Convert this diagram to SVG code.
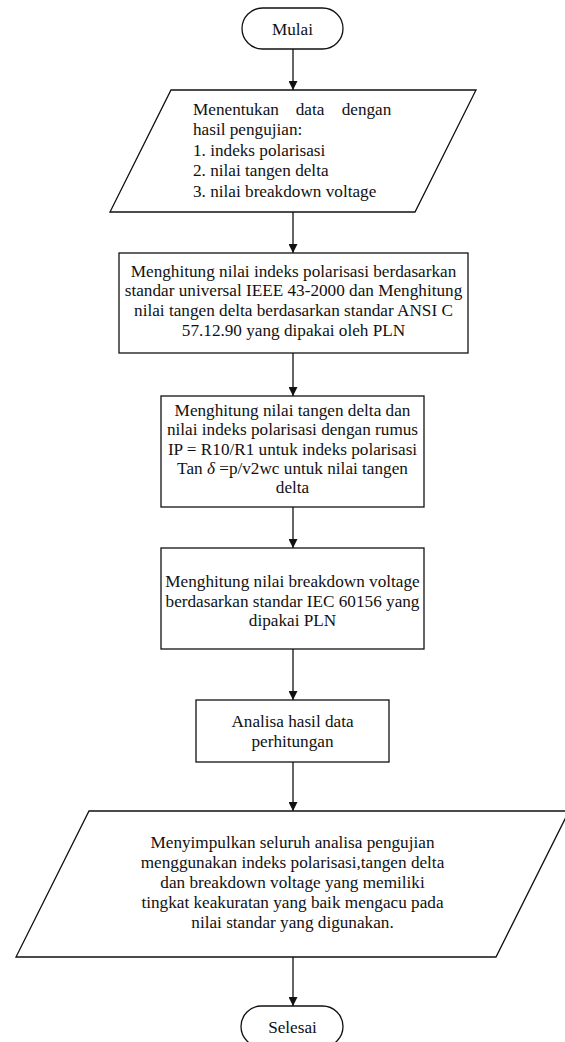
<svg xmlns="http://www.w3.org/2000/svg" width="565" height="1042" viewBox="0 0 565 1042" font-family="Liberation Serif, Times New Roman, DejaVu Serif, serif">
<style>
.shape{fill:#fff;stroke:#111;stroke-width:1.3}
.conn{stroke:#111;stroke-width:1.3;fill:none}
.t{font-family:'Liberation Serif','Times New Roman','DejaVu Serif',serif;font-size:17.2px;fill:#111}
.c{text-anchor:middle}
</style>
<defs>
<marker id="ah" viewBox="0 0 10 10" refX="10" refY="5" markerWidth="10" markerHeight="9" markerUnits="userSpaceOnUse" orient="auto">
<path d="M0,0 L10,5 L0,10 z" fill="#111"/>
</marker>
</defs>
<rect width="565" height="1042" fill="#fff"/>
<g id="connectors">
<line class="conn" x1="293" y1="49" x2="293" y2="90" marker-end="url(#ah)"/>
<line class="conn" x1="293" y1="212" x2="293" y2="253" marker-end="url(#ah)"/>
<line class="conn" x1="293" y1="353" x2="293" y2="396" marker-end="url(#ah)"/>
<line class="conn" x1="293" y1="507" x2="293" y2="548" marker-end="url(#ah)"/>
<line class="conn" x1="293" y1="649" x2="293" y2="700" marker-end="url(#ah)"/>
<line class="conn" x1="293" y1="762" x2="293" y2="811" marker-end="url(#ah)"/>
<line class="conn" x1="293" y1="957" x2="293" y2="1006" marker-end="url(#ah)"/>
</g>
<g id="mulai">
<rect class="shape" x="242" y="8" width="101" height="41" rx="20.5" ry="20.5"/>
<text class="t c" x="292.5" y="34.5">Mulai</text>
</g>
<g id="input-data">
<polygon class="shape" points="171,90 476,90 415,212 110,212"/>
<text class="t" x="193" y="115">Menentukan</text>
<text class="t" x="295.7" y="115">data</text>
<text class="t" x="341.7" y="115">dengan</text>
<text class="t" x="193" y="135.4">hasil pengujian:</text>
<text class="t" x="193" y="155.8">1. indeks polarisasi</text>
<text class="t" x="193" y="176.2">2. nilai tangen delta</text>
<text class="t" x="193" y="196.6">3. nilai breakdown voltage</text>
</g>
<g id="hitung-standar">
<rect class="shape" x="119" y="253" width="349" height="100"/>
<text class="t c" x="293.5" y="276.7">Menghitung nilai indeks polarisasi berdasarkan</text>
<text class="t c" x="293.5" y="296.3">standar universal IEEE 43-2000 dan Menghitung</text>
<text class="t c" x="293.5" y="315.9">nilai tangen delta berdasarkan standar ANSI C</text>
<text class="t c" x="293.5" y="335.5">57.12.90 yang dipakai oleh PLN</text>
</g>
<g id="hitung-rumus">
<rect class="shape" x="161" y="396" width="263" height="111"/>
<text class="t c" x="292.5" y="416">Menghitung nilai tangen delta dan</text>
<text class="t c" x="292.5" y="435.3">nilai indeks polarisasi dengan rumus</text>
<text class="t c" x="292.5" y="454.6">IP = R10/R1 untuk indeks polarisasi</text>
<text class="t c" x="292.5" y="473.9">Tan <tspan font-style="italic">δ</tspan> =p/v2wc untuk nilai tangen</text>
<text class="t c" x="292.5" y="493.2">delta</text>
</g>
<g id="hitung-breakdown">
<rect class="shape" x="161" y="548" width="263" height="101"/>
<text class="t c" x="292.5" y="587.3">Menghitung nilai breakdown voltage</text>
<text class="t c" x="292.5" y="606.7">berdasarkan standar IEC 60156 yang</text>
<text class="t c" x="292.5" y="626">dipakai PLN</text>
</g>
<g id="analisa">
<rect class="shape" x="196" y="700" width="193" height="62"/>
<text class="t c" x="292.5" y="727">Analisa hasil data</text>
<text class="t c" x="292.5" y="747">perhitungan</text>
</g>
<g id="kesimpulan">
<polygon class="shape" points="89,811 569,811 496,957 16,957"/>
<text class="t c" x="292.5" y="848.3">Menyimpulkan seluruh analisa pengujian</text>
<text class="t c" x="292.5" y="868.3">menggunakan indeks polarisasi,tangen delta</text>
<text class="t c" x="292.5" y="888.3">dan breakdown voltage yang memiliki</text>
<text class="t c" x="292.5" y="908.3">tingkat keakuratan yang baik mengacu pada</text>
<text class="t c" x="292.5" y="928.3">nilai standar yang digunakan.</text>
</g>
<g id="selesai">
<rect class="shape" x="241" y="1006" width="102" height="41" rx="20.5" ry="20.5"/>
<text class="t c" x="292.5" y="1032.5">Selesai</text>
</g>
</svg>
